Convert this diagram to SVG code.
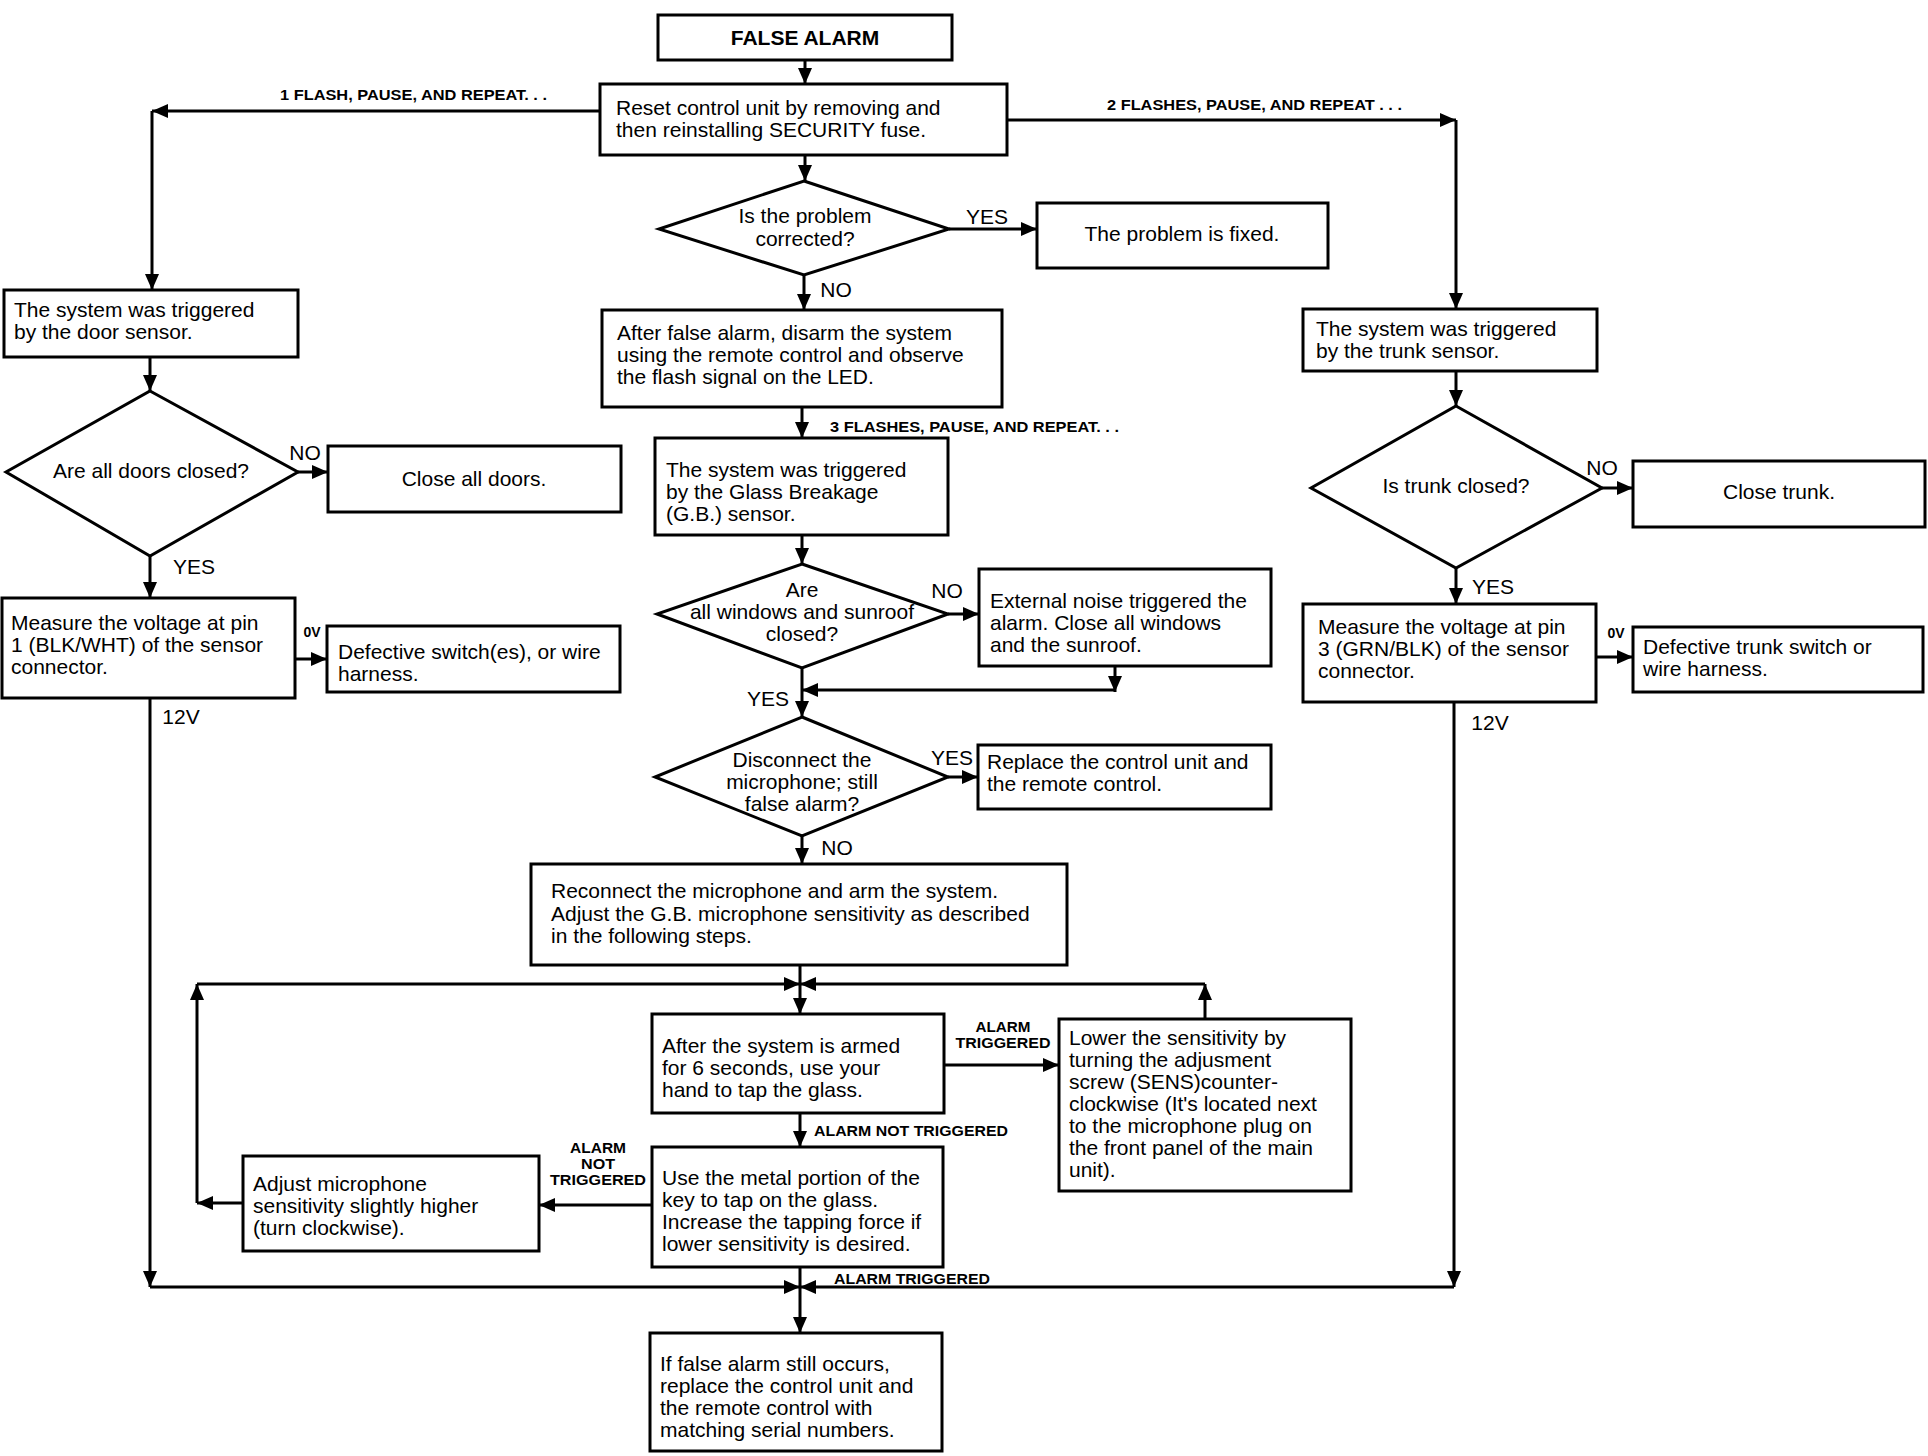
<svg xmlns="http://www.w3.org/2000/svg" width="1928" height="1456" viewBox="0 0 1928 1456">
<defs>
<marker id="ah" viewBox="0 0 16 14" refX="16" refY="7" markerWidth="16" markerHeight="14" markerUnits="userSpaceOnUse" orient="auto"><path d="M0,0 L16,7 L0,14 z" fill="#000"/></marker>
</defs>
<style>
.box{fill:#fff;stroke:#000;stroke-width:3}
.dia{fill:#fff;stroke:#000;stroke-width:3}
.t{font-family:"Liberation Sans",Arial,sans-serif;font-size:21px;fill:#000}
.m{text-anchor:middle}
.b{font-weight:bold}
.s{font-family:"Liberation Sans",Arial,sans-serif;font-size:14px;font-weight:bold;fill:#000}
.c{stroke:#000;stroke-width:3;fill:none;marker-end:url(#ah)}
</style>
<rect width="1928" height="1456" fill="#fff"/>

<g id="connectors">
<line class="c" x1="805" y1="60" x2="805" y2="84"/>
<line class="c" x1="600" y1="111" x2="152" y2="111"/>
<line class="c" x1="152" y1="111" x2="152" y2="290"/>
<text class="s" x="280" y="100" textLength="267" lengthAdjust="spacingAndGlyphs">1 FLASH, PAUSE, AND REPEAT. . .</text>
<line class="c" x1="1007" y1="120" x2="1456" y2="120"/>
<line class="c" x1="1456" y1="120" x2="1456" y2="309"/>
<text class="s" x="1107" y="110" textLength="295" lengthAdjust="spacingAndGlyphs">2 FLASHES, PAUSE, AND REPEAT . . .</text>
<line class="c" x1="805" y1="155" x2="805" y2="181"/>
<line class="c" x1="949" y1="229" x2="1037" y2="229"/>
<text class="t" x="987" y="224" text-anchor="middle">YES</text>
<line class="c" x1="804" y1="275" x2="804" y2="310"/>
<text class="t" x="836" y="297" text-anchor="middle">NO</text>
<line class="c" x1="802" y1="407" x2="802" y2="438"/>
<text class="s" x="830" y="432" textLength="289" lengthAdjust="spacingAndGlyphs">3 FLASHES, PAUSE, AND REPEAT. . .</text>
<line class="c" x1="802" y1="535" x2="802" y2="564"/>
<line class="c" x1="948" y1="614" x2="979" y2="614"/>
<text class="t" x="947" y="598" text-anchor="middle">NO</text>
<line class="c" x1="1115" y1="666" x2="1115" y2="692"/>
<line class="c" x1="1115" y1="690" x2="802" y2="690"/>
<line class="c" x1="802" y1="668" x2="802" y2="717"/>
<text class="t" x="768" y="706" text-anchor="middle">YES</text>
<line class="c" x1="948" y1="777" x2="978" y2="777"/>
<text class="t" x="952" y="765" text-anchor="middle">YES</text>
<line class="c" x1="802" y1="836" x2="802" y2="864"/>
<text class="t" x="837" y="855" text-anchor="middle">NO</text>

<line class="c" x1="800" y1="965" x2="800" y2="1014"/>
<line class="c" x1="197" y1="984" x2="800" y2="984"/>
<line class="c" x1="1205" y1="984" x2="800" y2="984"/>
<line class="c" x1="1205" y1="1019" x2="1205" y2="984"/>
<line class="c" x1="197" y1="1203" x2="197" y2="984"/>
<line class="c" x1="243" y1="1203" x2="197" y2="1203"/>

<line class="c" x1="944" y1="1065" x2="1059" y2="1065"/>
<text class="s" x="1003" y="1032" text-anchor="middle" textLength="55" lengthAdjust="spacingAndGlyphs">ALARM</text>
<text class="s" x="1003" y="1048" text-anchor="middle" textLength="95" lengthAdjust="spacingAndGlyphs">TRIGGERED</text>
<line class="c" x1="800" y1="1113" x2="800" y2="1147"/>
<text class="s" x="814" y="1136" textLength="194" lengthAdjust="spacingAndGlyphs">ALARM NOT TRIGGERED</text>
<line class="c" x1="652" y1="1205" x2="539" y2="1205"/>
<text class="s" x="598" y="1153" text-anchor="middle" textLength="56" lengthAdjust="spacingAndGlyphs">ALARM</text>
<text class="s" x="598" y="1169" text-anchor="middle" textLength="34" lengthAdjust="spacingAndGlyphs">NOT</text>
<text class="s" x="598" y="1185" text-anchor="middle" textLength="96" lengthAdjust="spacingAndGlyphs">TRIGGERED</text>

<line class="c" x1="150" y1="698" x2="150" y2="1287"/>
<line class="c" x1="150" y1="1287" x2="800" y2="1287"/>
<line class="c" x1="1454" y1="702" x2="1454" y2="1287"/>
<line class="c" x1="1454" y1="1287" x2="800" y2="1287"/>
<line class="c" x1="800" y1="1267" x2="800" y2="1333"/>
<text class="s" x="834" y="1284" textLength="156" lengthAdjust="spacingAndGlyphs">ALARM TRIGGERED</text>

<line class="c" x1="150" y1="357" x2="150" y2="391"/>
<line class="c" x1="298" y1="472" x2="328" y2="472"/>
<text class="t" x="305" y="460" text-anchor="middle">NO</text>
<line class="c" x1="150" y1="556" x2="150" y2="598"/>
<text class="t" x="194" y="574" text-anchor="middle">YES</text>
<line class="c" x1="295" y1="659" x2="327" y2="659"/>
<text class="s" x="312" y="637" text-anchor="middle" font-size="12">0V</text>
<text class="t" x="181" y="724" text-anchor="middle">12V</text>

<line class="c" x1="1456" y1="371" x2="1456" y2="406"/>
<line class="c" x1="1602" y1="488" x2="1633" y2="488"/>
<text class="t" x="1602" y="475" text-anchor="middle">NO</text>
<line class="c" x1="1456" y1="568" x2="1456" y2="604"/>
<text class="t" x="1493" y="594" text-anchor="middle">YES</text>
<line class="c" x1="1596" y1="657" x2="1633" y2="657"/>
<text class="s" x="1616" y="638" text-anchor="middle" font-size="12">0V</text>
<text class="t" x="1490" y="730" text-anchor="middle">12V</text>
</g>

<g id="false_alarm">
<rect class="box" x="658" y="15" width="294" height="45" stroke-width="4"/>
<text class="t b m" x="805" y="45">FALSE ALARM</text>
</g>

<g id="reset">
<rect class="box" x="600" y="84" width="407" height="71"/>
<text class="t" x="616" y="115">Reset control unit by removing and</text>
<text class="t" x="616" y="137">then reinstalling SECURITY fuse.</text>
</g>

<g id="d_corrected">
<polygon class="dia" points="804,181 949,229 804,275 659,229"/>
<text class="t m" x="805" y="223">Is the problem</text>
<text class="t m" x="805" y="246">corrected?</text>
</g>

<g id="fixed">
<rect class="box" x="1037" y="203" width="291" height="65"/>
<text class="t m" x="1182" y="241">The problem is fixed.</text>
</g>

<g id="disarm">
<rect class="box" x="602" y="310" width="400" height="97"/>
<text class="t" x="617" y="340">After false alarm, disarm the system</text>
<text class="t" x="617" y="362">using the remote control and observe</text>
<text class="t" x="617" y="384">the flash signal on the LED.</text>
</g>

<g id="gb_sensor">
<rect class="box" x="655" y="438" width="293" height="97"/>
<text class="t" x="666" y="477">The system was triggered</text>
<text class="t" x="666" y="499">by the Glass Breakage</text>
<text class="t" x="666" y="521">(G.B.) sensor.</text>
</g>

<g id="d_windows">
<polygon class="dia" points="802,564 948,614 802,668 657,614"/>
<text class="t m" x="802" y="597">Are</text>
<text class="t m" x="802" y="619">all windows and sunroof</text>
<text class="t m" x="802" y="641">closed?</text>
</g>

<g id="external_noise">
<rect class="box" x="979" y="569" width="292" height="97"/>
<text class="t" x="990" y="608">External noise triggered the</text>
<text class="t" x="990" y="630">alarm. Close all windows</text>
<text class="t" x="990" y="652">and the sunroof.</text>
</g>

<g id="d_microphone">
<polygon class="dia" points="802,717 948,777 802,836 655,777"/>
<text class="t m" x="802" y="767">Disconnect the</text>
<text class="t m" x="802" y="789">microphone; still</text>
<text class="t m" x="802" y="811">false alarm?</text>
</g>

<g id="replace">
<rect class="box" x="978" y="745" width="293" height="64"/>
<text class="t" x="987" y="769">Replace the control unit and</text>
<text class="t" x="987" y="791">the remote control.</text>
</g>

<g id="reconnect">
<rect class="box" x="531" y="864" width="536" height="101"/>
<text class="t" x="551" y="898">Reconnect the microphone and arm the system.</text>
<text class="t" x="551" y="921">Adjust the G.B. microphone sensitivity as described</text>
<text class="t" x="551" y="943">in the following steps.</text>
</g>

<g id="armed">
<rect class="box" x="652" y="1014" width="292" height="99"/>
<text class="t" x="662" y="1053">After the system is armed</text>
<text class="t" x="662" y="1075">for 6 seconds, use your</text>
<text class="t" x="662" y="1097">hand to tap the glass.</text>
</g>

<g id="lower">
<rect class="box" x="1059" y="1019" width="292" height="172"/>
<text class="t" x="1069" y="1045">Lower the sensitivity by</text>
<text class="t" x="1069" y="1067">turning the adjusment</text>
<text class="t" x="1069" y="1089">screw (SENS)counter-</text>
<text class="t" x="1069" y="1111">clockwise (It's located next</text>
<text class="t" x="1069" y="1133">to the microphone plug on</text>
<text class="t" x="1069" y="1155">the front panel of the main</text>
<text class="t" x="1069" y="1177">unit).</text>
</g>

<g id="metal">
<rect class="box" x="652" y="1147" width="291" height="120"/>
<text class="t" x="662" y="1185">Use the metal portion of the</text>
<text class="t" x="662" y="1207">key to tap on the glass.</text>
<text class="t" x="662" y="1229">Increase the tapping force if</text>
<text class="t" x="662" y="1251">lower sensitivity is desired.</text>
</g>

<g id="adjust">
<rect class="box" x="243" y="1156" width="296" height="95"/>
<text class="t" x="253" y="1191">Adjust microphone</text>
<text class="t" x="253" y="1213">sensitivity slightly higher</text>
<text class="t" x="253" y="1235">(turn clockwise).</text>
</g>

<g id="final">
<rect class="box" x="650" y="1333" width="292" height="118"/>
<text class="t" x="660" y="1371">If false alarm still occurs,</text>
<text class="t" x="660" y="1393">replace the control unit and</text>
<text class="t" x="660" y="1415">the remote control with</text>
<text class="t" x="660" y="1437">matching serial numbers.</text>
</g>

<g id="door_sensor">
<rect class="box" x="4" y="290" width="294" height="67"/>
<text class="t" x="14" y="317">The system was triggered</text>
<text class="t" x="14" y="339">by the door sensor.</text>
</g>

<g id="d_doors">
<polygon class="dia" points="150,391 298,472 150,556 6,472"/>
<text class="t m" x="151" y="478">Are all doors closed?</text>
</g>

<g id="close_doors">
<rect class="box" x="328" y="446" width="293" height="66"/>
<text class="t m" x="474" y="486">Close all doors.</text>
</g>

<g id="measure_door">
<rect class="box" x="2" y="598" width="293" height="100"/>
<text class="t" x="11" y="630">Measure the voltage at pin</text>
<text class="t" x="11" y="652">1 (BLK/WHT) of the sensor</text>
<text class="t" x="11" y="674">connector.</text>
</g>

<g id="defective_door">
<rect class="box" x="327" y="626" width="293" height="66"/>
<text class="t" x="338" y="659">Defective switch(es), or wire</text>
<text class="t" x="338" y="681">harness.</text>
</g>

<g id="trunk_sensor">
<rect class="box" x="1303" y="309" width="294" height="62"/>
<text class="t" x="1316" y="336">The system was triggered</text>
<text class="t" x="1316" y="358">by the trunk sensor.</text>
</g>

<g id="d_trunk">
<polygon class="dia" points="1456,406 1602,488 1456,568 1311,488"/>
<text class="t m" x="1456" y="493">Is trunk closed?</text>
</g>

<g id="close_trunk">
<rect class="box" x="1633" y="461" width="292" height="66"/>
<text class="t m" x="1779" y="499">Close trunk.</text>
</g>

<g id="measure_trunk">
<rect class="box" x="1303" y="604" width="293" height="98"/>
<text class="t" x="1318" y="634">Measure the voltage at pin</text>
<text class="t" x="1318" y="656">3 (GRN/BLK) of the sensor</text>
<text class="t" x="1318" y="678">connector.</text>
</g>

<g id="defective_trunk">
<rect class="box" x="1633" y="627" width="290" height="65"/>
<text class="t" x="1643" y="654">Defective trunk switch or</text>
<text class="t" x="1643" y="676">wire harness.</text>
</g>
</svg>
